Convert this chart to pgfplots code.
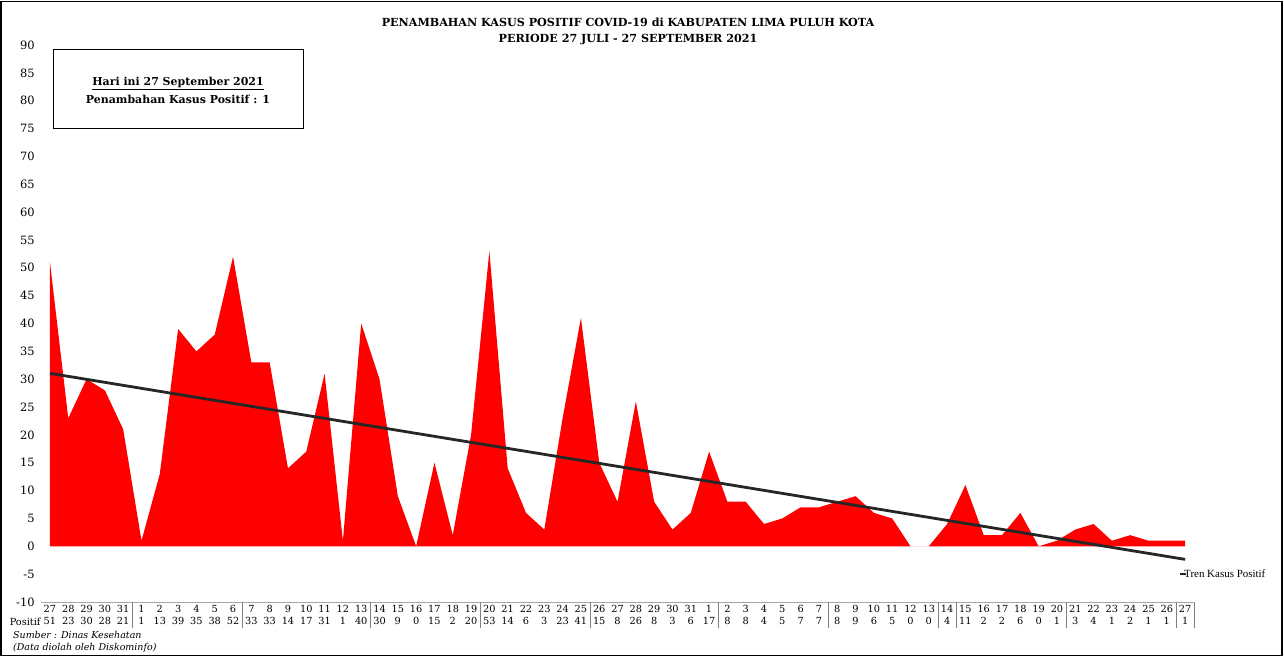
\documentclass[border=0pt]{standalone}
\usepackage{pgfplots}
\pgfplotsset{compat=1.18}
\usepackage{pgfplotstable}
\usepackage{fontspec}
\setmainfont{DejaVu Serif}
\newfontfamily\timesf{Liberation Serif}

\pgfplotstableread{
x v
0 51
1 23
2 30
3 28
4 21
5 1
6 13
7 39
8 35
9 38
10 52
11 33
12 33
13 14
14 17
15 31
16 1
17 40
18 30
19 9
20 0
21 15
22 2
23 20
24 53
25 14
26 6
27 3
28 23
29 41
30 15
31 8
32 26
33 8
34 3
35 6
36 17
37 8
38 8
39 4
40 5
41 7
42 7
43 8
44 9
45 6
46 5
47 0
48 0
49 4
50 11
51 2
52 2
53 6
54 0
55 1
56 3
57 4
58 1
59 2
60 1
61 1
62 1
}\data

\begin{document}
\begin{tikzpicture}[x=1bp,y=1bp]
\useasboundingbox (0,0) rectangle (1284,657);
\draw[line width=1.5bp] (1,1.5) rectangle (1282,655.5);
\begin{axis}[
  at={(40.8bp,55bp)}, anchor=south west, scale only axis,
  width=1153.5bp, height=557bp,
  xmin=-0.5, xmax=62.5, ymin=-10, ymax=90,
  ytick={-10,-5,...,90},
  axis line style={draw=none}, major tick length=0pt,
  /pgf/number format/assume math mode=true,
  xtick={0,...,62},
  xticklabels={{27\\51},{28\\23},{29\\30},{30\\28},{31\\21},
  {1\\1},{2\\13},{3\\39},{4\\35},{5\\38},{6\\52},{7\\33},{8\\33},{9\\14},{10\\17},{11\\31},{12\\1},{13\\40},{14\\30},{15\\9},{16\\0},{17\\15},{18\\2},{19\\20},{20\\53},{21\\14},{22\\6},{23\\3},{24\\23},{25\\41},{26\\15},{27\\8},{28\\26},{29\\8},{30\\3},{31\\6},
  {1\\17},{2\\8},{3\\8},{4\\4},{5\\5},{6\\7},{7\\7},{8\\8},{9\\9},{10\\6},{11\\5},{12\\0},{13\\0},{14\\4},{15\\11},{16\\2},{17\\2},{18\\6},{19\\0},{20\\1},{21\\3},{22\\4},{23\\1},{24\\2},{25\\1},{26\\1},{27\\1}},
  yticklabel style={font=\fontsize{11.5}{12}\selectfont, anchor=east, inner sep=0pt, xshift=-6bp},
  xticklabel style={font=\fontsize{9.8}{12}\selectfont, anchor=north, align=center, inner sep=0pt, yshift=-3bp},
  clip=false]
\addplot[draw=none, fill=red] table[x=x,y=v]{\data} \closedcycle;
\addplot[color=black!85, line width=2.8bp] coordinates {(0,31.05) (62,-2.35)};
\draw[gray!70, line width=0.8bp] (axis cs:-0.5,-10) -- (axis cs:62.5,-10);
\pgfplotsinvokeforeach{4.5,10.5,17.5,23.5,29.5,36.5,42.5,48.5,49.5,55.5,61.5,62.5}{
  \draw[gray, line width=0.6bp] (axis cs:#1,-10) -- (axis cs:#1,-14.7);
}
\node[anchor=east, inner sep=0pt, font=\fontsize{9.8}{12}\selectfont] at (axis cs:-0.5,-13.5) {Positif};
\end{axis}
\node[font=\bfseries\fontsize{11.2}{16}\selectfont, align=center] at (628,657-31.5) {PENAMBAHAN KASUS POSITIF COVID-19 di KABUPATEN LIMA PULUH KOTA\\PERIODE 27 JULI - 27 SEPTEMBER 2021};
\draw[line width=0.8bp] (53,657-49) rectangle (303,657-128);
\node[font=\bfseries\fontsize{11}{18}\selectfont, align=center] at (178,657-90) {\underline{Hari ini 27 September 2021}\\Penambahan Kasus Positif : 1};
\node[anchor=west, inner sep=0pt, font=\itshape\fontsize{9.5}{12}\selectfont, align=left] at (13,657-642) {Sumber : Dinas Kesehatan\\(Data diolah oleh Diskominfo)};
\draw[black!85, line width=1.5bp] (1180,657-574) -- (1186,657-574);
\node[anchor=west, inner sep=0pt, font=\timesf\fontsize{11}{12}\selectfont] at (1184,657-574) {Tren Kasus Positif};
\end{tikzpicture}
\end{document}
